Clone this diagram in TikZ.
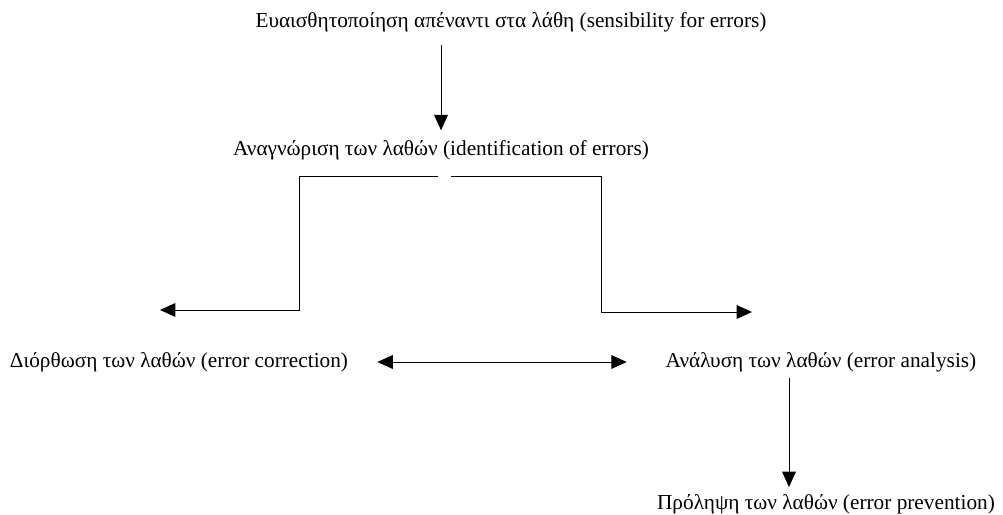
\documentclass[tikz,border=0pt]{standalone}
\usepackage{fontspec}
\setmainfont{Liberation Serif}
\usetikzlibrary{arrows.meta}

\begin{document}
\begin{tikzpicture}[
  x=0.62pt, y=-0.62pt,
  every node/.style={font=\fontsize{13.2}{15}\selectfont, inner sep=2pt},
  stage/.style={anchor=center},
  flow/.style={draw=black, line width=0.6pt, -{Triangle[length=9.5pt, width=8.5pt]}},
  both/.style={draw=black, line width=0.6pt, {Triangle[length=9.5pt, width=8.5pt]}-{Triangle[length=9.5pt, width=8.5pt]}},
  edge/.style={draw=black, line width=0.6pt}
]
  \useasboundingbox (0,0) rectangle (1003,515);
  \node[stage] (sens) at (511,22) {Ευαισθητοποίηση απέναντι στα λάθη (sensibility for errors)};
  \node[stage] (ident) at (441,150) {Αναγνώριση των λαθών (identification of errors)};
  \node[stage] (corr) at (179,362) {Διόρθωση των λαθών (error correction)};
  \node[stage] (anal) at (821,362) {Ανάλυση των λαθών (error analysis)};
  \node[stage] (prev) at (826,504) {Πρόληψη των λαθών (error prevention)};
  \coordinate (splitL) at (438,176);
  \coordinate (splitR) at (451,176);
  \coordinate (toCorr) at (160,310);
  \coordinate (toAnal) at (752,312);
  \draw[flow, shorten >=4pt] (sens.south -| ident.north) ++(0,10) -- (ident.north);
  \draw[edge, -{Triangle[length=9.5pt, width=8.5pt]}] (splitL) -| (299,310) -- (toCorr);
  \draw[edge, -{Triangle[length=9.5pt, width=8.5pt]}] (splitR) -| (601,312) -- (toAnal);
  \draw[both, shorten <=16pt, shorten >=22pt] (corr.east) -- (anal.west);
  \draw[flow] (anal.south -| 789,0) ++(0,3) -- (789,487);
\end{tikzpicture}
\end{document}
